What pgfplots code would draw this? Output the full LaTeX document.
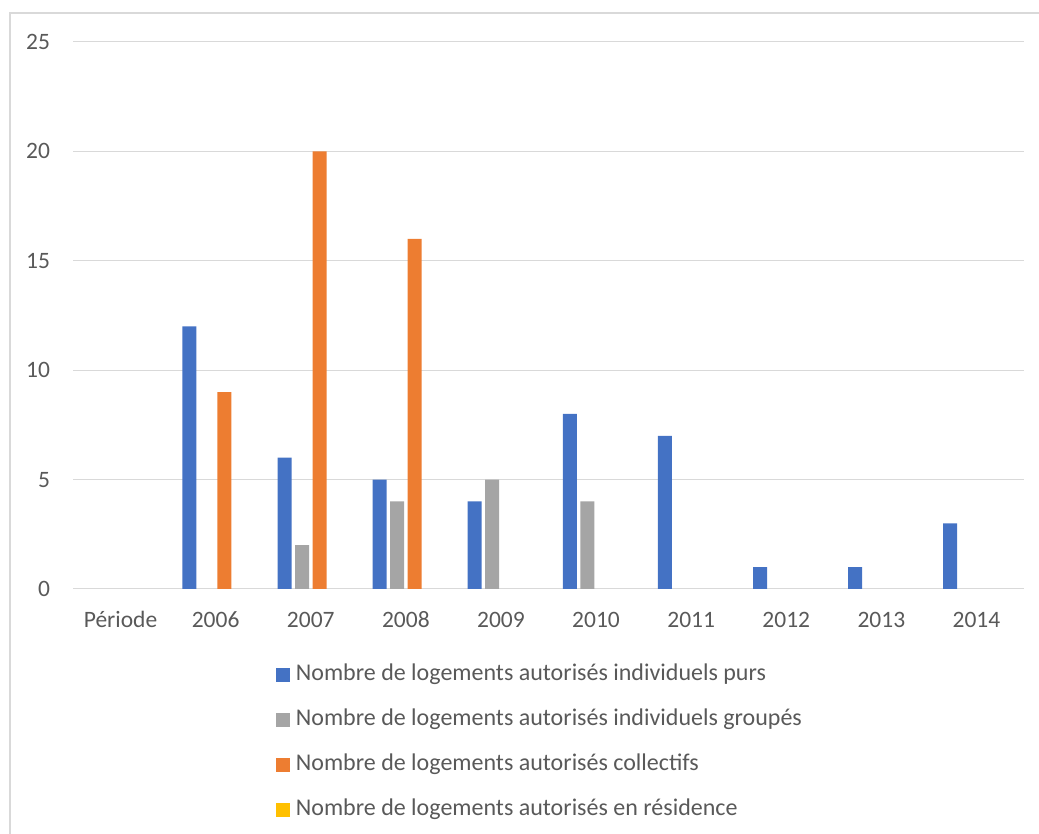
\documentclass[border=0pt]{standalone}
\usepackage{pgfplots}
\pgfplotsset{compat=1.18}
\usepackage{fontspec}
\setmainfont{Carlito}
\definecolor{cblue}{HTML}{4472C4}
\definecolor{cgrey}{HTML}{A5A5A5}
\definecolor{corange}{HTML}{ED7D31}
\definecolor{cyellow}{HTML}{FFC000}
\definecolor{ctext}{HTML}{595959}
\definecolor{cgrid}{HTML}{D9D9D9}
\begin{document}
\fontsize{23.5}{28}\selectfont
\begin{tikzpicture}
\useasboundingbox (0,0) rectangle (1039pt,834pt);
\draw[cgrid, line width=1.2pt] (10pt,-2pt) -- (10pt,821pt) -- (1041pt,821pt);
\begin{axis}[
  at={(73pt,245pt)}, anchor=south west,
  scale only axis, width=951pt, height=547pt,
  ybar=3.5pt, bar width=14pt,
  unbounded coords=discard,
  xmin=-0.5, xmax=9.5, ymin=0, ymax=25,
  xtick={0,...,9},
  xticklabels={Période,2006,2007,2008,2009,2010,2011,2012,2013,2014},
  ytick={0,5,...,25},
  axis line style={draw=none},
  major tick length=0pt,
  ymajorgrids, grid style={cgrid, line width=1pt},
  tick label style={text=ctext, font=\fontsize{23.5}{28}\selectfont},
  /pgf/number format/assume math mode=true,
  yticklabel style={xshift=-15pt},
  xticklabel style={anchor=north, text height=16pt, text depth=5pt, yshift=-14pt},
  legend style={at={(0.21,-0.13)}, anchor=north west, draw=none, fill=none,
    font=\fontsize{24}{28}\selectfont, text=ctext, row sep=20pt,
    nodes={text height=16pt, text depth=5pt, inner xsep=6pt}},
  legend cell align=left,
  legend image code/.code={\fill[#1] (0pt,-7pt) rectangle (14pt,7pt);},
]
\addplot[fill=cblue, draw=none] coordinates {(1,12) (2,6) (3,5) (4,4) (5,8) (6,7) (7,1) (8,1) (9,3)};
\addplot[fill=cgrey, draw=none] coordinates {(1,nan) (2,2) (3,4) (4,5) (5,4) (6,nan) (7,nan) (8,nan) (9,nan)};
\addplot[fill=corange, draw=none] coordinates {(1,9) (2,20) (3,16) (4,nan) (5,nan) (6,nan) (7,nan) (8,nan) (9,nan)};
\addplot[fill=cyellow, draw=none] coordinates {(1,nan) (2,nan) (3,nan) (4,nan) (5,nan) (6,nan) (7,nan) (8,nan) (9,nan)};
\addlegendimage{fill=cyellow, draw=none}
\legend{Nombre de logements autorisés individuels purs,
Nombre de logements autorisés individuels groupés,
Nombre de logements autorisés collectifs,
Nombre de logements autorisés en résidence}
\end{axis}
\end{tikzpicture}
\end{document}
